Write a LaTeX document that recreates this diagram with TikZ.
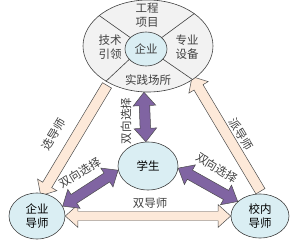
\documentclass[tikz,border=0pt]{standalone}
\usepackage{fontspec}
\newfontfamily\zh{Noto Sans CJK SC}
\usepackage{tikz}
\usetikzlibrary{shapes.geometric, shapes.arrows, calc, backgrounds}
\definecolor{qing}{RGB}{218,238,243}
\definecolor{hui}{RGB}{242,242,242}
\definecolor{zi}{RGB}{128,100,162}
\definecolor{fen}{RGB}{253,233,217}
\tikzset{
    tuoyuan/.style = {ellipse, draw=black!75, fill=qing, inner sep=0pt, align=center,
                      line width=0.6pt},
    waiquan/.style = {ellipse, draw=black!75, fill=hui, inner sep=0pt, line width=0.6pt},
    fenge/.style   = {draw=black!75, line width=0.6pt},
    wenzi/.style   = {text=black!75, align=center, inner sep=1pt},
}
\tikzset{
    zijian/.style  = {double arrow, draw=black!70, fill=zi, line width=0.5pt, inner xsep=0pt,
                      inner ysep=5bp, double arrow head extend=6bp, double arrow tip angle=80},
    fenjian/.style = {single arrow, draw=black!70, fill=fen, line width=0.5pt, inner xsep=0pt,
                      inner ysep=5bp, single arrow head extend=6bp, single arrow tip angle=84},
    fenshuang/.style = {double arrow, draw=black!70, fill=fen, line width=0.5pt, inner xsep=0pt,
                      inner ysep=4.5bp, double arrow head extend=6.5bp, double arrow tip angle=84},
}
% fat arrow from #2 to #3
\newcommand\cujian[3]{%
    \path let \p1 = ($(#3)-(#2)$) in
        node[#1, rotate={atan2(\y1,\x1)}, minimum height={veclen(\x1,\y1)}]
        at ($(#2)!0.5!(#3)$) {};}

\begin{document}
\begin{tikzpicture}[x=1bp, y=1bp, font=\zh\fontsize{11.5bp}{14bp}\selectfont]
    \useasboundingbox (0,0) rectangle (295,247);
    % nodes
    \node[waiquan, minimum width=130bp, minimum height=92bp] (wai) at (148,201) {};
    \node[tuoyuan, minimum width=42bp, minimum height=34bp] (qiye) at (146,198) {};
    \draw[fenge] (qiye.144) -- (wai.148);
    \draw[fenge] (qiye.36) -- (wai.35);
    \draw[fenge] (qiye.212) -- (wai.220);
    \draw[fenge] (qiye.329) -- (wai.323);
    \node[wenzi] (qiyet) at (qiye) {企业};
    \node[wenzi] (gongcheng) at (147,232) {工程\\项目};
    \node[wenzi] (jishu) at (110,200) {技术\\引领};
    \node[wenzi] (zhuanye) at (187,200) {专业\\设备};
    \node[wenzi] (shijian) at (148,167) {实践场所};
    \node[tuoyuan, minimum width=60bp, minimum height=48bp] (xuesheng) at (148,81) {学生};
    \node[tuoyuan, minimum width=56bp, minimum height=46bp] (qydaoshi) at (37,31) {企业\\导师};
    \node[tuoyuan, minimum width=58bp, minimum height=44bp] (xndaoshi) at (260,31) {校内\\导师};

    % arrows
    \begin{pgfonlayer}{background}
        \cujian{fenjian}{wai.223}{qydaoshi.77}
        \cujian{fenjian}{xndaoshi.85}{wai.324}
        \cujian{fenshuang}{qydaoshi.east}{xndaoshi.west}
        \cujian{zijian}{wai.265}{xuesheng.95}
        \cujian{zijian}{qydaoshi.21}{xuesheng.188}
        \cujian{zijian}{xuesheng.-4}{xndaoshi.147}
    \end{pgfonlayer}

    % labels
    \node[wenzi, rotate=59] (xuandao) at (54,113) {选导师};
    \node[wenzi, rotate=-59] (paidao) at (241,113) {派导师};
    \node[wenzi] (shuangdao) at (150,44) {双导师};
    \node[wenzi, rotate=90] (xuanze1) at (126,126) {双向选择};
    \node[wenzi, rotate=32] (xuanze2) at (80,74) {双向选择};
    \node[wenzi, rotate=-32] (xuanze3) at (217,79) {双向选择};
\end{tikzpicture}
\end{document}
